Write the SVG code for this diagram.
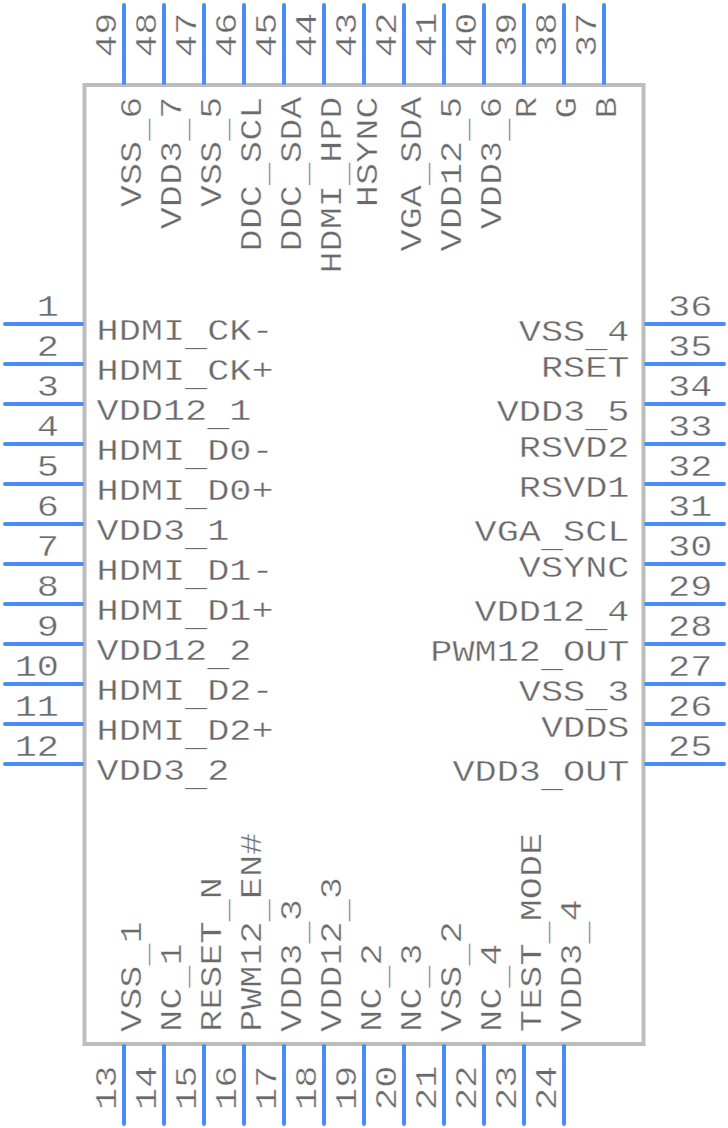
<svg xmlns="http://www.w3.org/2000/svg" width="728" height="1128" viewBox="0 0 728 1128">
<style>
.p{stroke:#4a8cf7;stroke-width:4;fill:none;stroke-linecap:round}
.b{stroke:#bdbdbd;stroke-width:4;fill:none}
text{font-family:"Liberation Mono",monospace;font-size:30px;fill:#6a6a6a;stroke:#fff;stroke-width:.35px}
.e{text-anchor:end}
</style>
<rect width="728" height="1128" fill="#fff"/>
<g id="body"><rect class="b" x="84.500" y="85" width="559" height="959"/></g>
<g id="connectors">
<path class="p" d="M124 5V83M164 5V83M204 5V83M244 5V83M284 5V83M324 5V83M364 5V83M404 5V83M444 5V83M484 5V83M524 5V83M564 5V83M604 5V83"/>
<path class="p" d="M124 1046V1124M164 1046V1124M204 1046V1124M244 1046V1124M284 1046V1124M324 1046V1124M364 1046V1124M404 1046V1124M444 1046V1124M484 1046V1124M524 1046V1124M564 1046V1124"/>
<path class="p" d="M5 324H82M5 364H82M5 404H82M5 444H82M5 484H82M5 524H82M5 564H82M5 604H82M5 644H82M5 684H82M5 724H82M5 764H82"/>
<path class="p" d="M646 324H724M646 364H724M646 404H724M646 444H724M646 484H724M646 524H724M646 564H724M646 604H724M646 644H724M646 684H724M646 724H724M646 764H724"/>
</g>
<g id="left-pins">
<text class="e" transform="translate(59,316) scale(1.23,1)">1</text>
<text class="e" transform="translate(59,356) scale(1.23,1)">2</text>
<text class="e" transform="translate(59,396) scale(1.23,1)">3</text>
<text class="e" transform="translate(59,436) scale(1.23,1)">4</text>
<text class="e" transform="translate(59,476) scale(1.23,1)">5</text>
<text class="e" transform="translate(59,516) scale(1.23,1)">6</text>
<text class="e" transform="translate(59,556) scale(1.23,1)">7</text>
<text class="e" transform="translate(59,596) scale(1.23,1)">8</text>
<text class="e" transform="translate(59,636) scale(1.23,1)">9</text>
<text class="e" transform="translate(59,676) scale(1.23,1)">10</text>
<text class="e" transform="translate(59,716) scale(1.23,1)">11</text>
<text class="e" transform="translate(59,756) scale(1.23,1)">12</text>
<text transform="translate(96.500,340) scale(1.23,1)">HDMI<tspan dy="6">_</tspan><tspan dy="-6">CK-</tspan></text>
<text transform="translate(96.500,380) scale(1.23,1)">HDMI<tspan dy="6">_</tspan><tspan dy="-6">CK+</tspan></text>
<text transform="translate(96.500,420) scale(1.23,1)">VDD12<tspan dy="6">_</tspan><tspan dy="-6">1</tspan></text>
<text transform="translate(96.500,460) scale(1.23,1)">HDMI<tspan dy="6">_</tspan><tspan dy="-6">D0-</tspan></text>
<text transform="translate(96.500,500) scale(1.23,1)">HDMI<tspan dy="6">_</tspan><tspan dy="-6">D0+</tspan></text>
<text transform="translate(96.500,540) scale(1.23,1)">VDD3<tspan dy="6">_</tspan><tspan dy="-6">1</tspan></text>
<text transform="translate(96.500,580) scale(1.23,1)">HDMI<tspan dy="6">_</tspan><tspan dy="-6">D1-</tspan></text>
<text transform="translate(96.500,620) scale(1.23,1)">HDMI<tspan dy="6">_</tspan><tspan dy="-6">D1+</tspan></text>
<text transform="translate(96.500,660) scale(1.23,1)">VDD12<tspan dy="6">_</tspan><tspan dy="-6">2</tspan></text>
<text transform="translate(96.500,700) scale(1.23,1)">HDMI<tspan dy="6">_</tspan><tspan dy="-6">D2-</tspan></text>
<text transform="translate(96.500,740) scale(1.23,1)">HDMI<tspan dy="6">_</tspan><tspan dy="-6">D2+</tspan></text>
<text transform="translate(96.500,780) scale(1.23,1)">VDD3<tspan dy="6">_</tspan><tspan dy="-6">2</tspan></text>
</g>
<g id="right-pins">
<text transform="translate(668,316) scale(1.23,1)">36</text>
<text transform="translate(668,356) scale(1.23,1)">35</text>
<text transform="translate(668,396) scale(1.23,1)">34</text>
<text transform="translate(668,436) scale(1.23,1)">33</text>
<text transform="translate(668,476) scale(1.23,1)">32</text>
<text transform="translate(668,516) scale(1.23,1)">31</text>
<text transform="translate(668,556) scale(1.23,1)">30</text>
<text transform="translate(668,596) scale(1.23,1)">29</text>
<text transform="translate(668,636) scale(1.23,1)">28</text>
<text transform="translate(668,676) scale(1.23,1)">27</text>
<text transform="translate(668,716) scale(1.23,1)">26</text>
<text transform="translate(668,756) scale(1.23,1)">25</text>
<text class="e" transform="translate(629.500,341) scale(1.23,1)">VSS<tspan dy="6">_</tspan><tspan dy="-6">4</tspan></text>
<text class="e" transform="translate(629.500,377) scale(1.23,1)">RSET</text>
<text class="e" transform="translate(629.500,421) scale(1.23,1)">VDD3<tspan dy="6">_</tspan><tspan dy="-6">5</tspan></text>
<text class="e" transform="translate(629.500,457) scale(1.23,1)">RSVD2</text>
<text class="e" transform="translate(629.500,497) scale(1.23,1)">RSVD1</text>
<text class="e" transform="translate(629.500,541) scale(1.23,1)">VGA<tspan dy="6">_</tspan><tspan dy="-6">SCL</tspan></text>
<text class="e" transform="translate(629.500,577) scale(1.23,1)">VSYNC</text>
<text class="e" transform="translate(629.500,621) scale(1.23,1)">VDD12<tspan dy="6">_</tspan><tspan dy="-6">4</tspan></text>
<text class="e" transform="translate(629.500,661) scale(1.23,1)">PWM12<tspan dy="6">_</tspan><tspan dy="-6">OUT</tspan></text>
<text class="e" transform="translate(629.500,701) scale(1.23,1)">VSS<tspan dy="6">_</tspan><tspan dy="-6">3</tspan></text>
<text class="e" transform="translate(629.500,737) scale(1.23,1)">VDDS</text>
<text class="e" transform="translate(629.500,781) scale(1.23,1)">VDD3<tspan dy="6">_</tspan><tspan dy="-6">OUT</tspan></text>
</g>
<g id="top-pins">
<text transform="translate(116,57) rotate(-90) scale(1.23,1)">49</text>
<text transform="translate(156,57) rotate(-90) scale(1.23,1)">48</text>
<text transform="translate(196,57) rotate(-90) scale(1.23,1)">47</text>
<text transform="translate(236,57) rotate(-90) scale(1.23,1)">46</text>
<text transform="translate(276,57) rotate(-90) scale(1.23,1)">45</text>
<text transform="translate(316,57) rotate(-90) scale(1.23,1)">44</text>
<text transform="translate(356,57) rotate(-90) scale(1.23,1)">43</text>
<text transform="translate(396,57) rotate(-90) scale(1.23,1)">42</text>
<text transform="translate(436,57) rotate(-90) scale(1.23,1)">41</text>
<text transform="translate(476,57) rotate(-90) scale(1.23,1)">40</text>
<text transform="translate(516,57) rotate(-90) scale(1.23,1)">39</text>
<text transform="translate(556,57) rotate(-90) scale(1.23,1)">38</text>
<text transform="translate(596,57) rotate(-90) scale(1.23,1)">37</text>
<text class="e" transform="translate(141,96.500) rotate(-90) scale(1.23,1)">VSS<tspan dy="6">_</tspan><tspan dy="-6">6</tspan></text>
<text class="e" transform="translate(181,96.500) rotate(-90) scale(1.23,1)">VDD3<tspan dy="6">_</tspan><tspan dy="-6">7</tspan></text>
<text class="e" transform="translate(221,96.500) rotate(-90) scale(1.23,1)">VSS<tspan dy="6">_</tspan><tspan dy="-6">5</tspan></text>
<text class="e" transform="translate(261,96.500) rotate(-90) scale(1.23,1)">DDC<tspan dy="6">_</tspan><tspan dy="-6">SCL</tspan></text>
<text class="e" transform="translate(301,96.500) rotate(-90) scale(1.23,1)">DDC<tspan dy="6">_</tspan><tspan dy="-6">SDA</tspan></text>
<text class="e" transform="translate(341,96.500) rotate(-90) scale(1.23,1)">HDMI<tspan dy="6">_</tspan><tspan dy="-6">HPD</tspan></text>
<text class="e" transform="translate(377,96.500) rotate(-90) scale(1.23,1)">HSYNC</text>
<text class="e" transform="translate(421,96.500) rotate(-90) scale(1.23,1)">VGA<tspan dy="6">_</tspan><tspan dy="-6">SDA</tspan></text>
<text class="e" transform="translate(461,96.500) rotate(-90) scale(1.23,1)">VDD12<tspan dy="6">_</tspan><tspan dy="-6">5</tspan></text>
<text class="e" transform="translate(501,96.500) rotate(-90) scale(1.23,1)">VDD3<tspan dy="6">_</tspan><tspan dy="-6">6</tspan></text>
<text class="e" transform="translate(536,96.500) rotate(-90) scale(1.23,1)">R</text>
<text class="e" transform="translate(576,96.500) rotate(-90) scale(1.23,1)">G</text>
<text class="e" transform="translate(616,96.500) rotate(-90) scale(1.23,1)">B</text>
</g>
<g id="bottom-pins">
<text transform="translate(116,1110) rotate(-90) scale(1.23,1)">13</text>
<text transform="translate(156,1110) rotate(-90) scale(1.23,1)">14</text>
<text transform="translate(196,1110) rotate(-90) scale(1.23,1)">15</text>
<text transform="translate(236,1110) rotate(-90) scale(1.23,1)">16</text>
<text transform="translate(276,1110) rotate(-90) scale(1.23,1)">17</text>
<text transform="translate(316,1110) rotate(-90) scale(1.23,1)">18</text>
<text transform="translate(356,1110) rotate(-90) scale(1.23,1)">19</text>
<text transform="translate(396,1110) rotate(-90) scale(1.23,1)">20</text>
<text transform="translate(436,1110) rotate(-90) scale(1.23,1)">21</text>
<text transform="translate(476,1110) rotate(-90) scale(1.23,1)">22</text>
<text transform="translate(516,1110) rotate(-90) scale(1.23,1)">23</text>
<text transform="translate(556,1110) rotate(-90) scale(1.23,1)">24</text>
<text transform="translate(141,1032) rotate(-90) scale(1.23,1)">VSS<tspan dy="6">_</tspan><tspan dy="-6">1</tspan></text>
<text transform="translate(181,1032) rotate(-90) scale(1.23,1)">NC<tspan dy="6">_</tspan><tspan dy="-6">1</tspan></text>
<text transform="translate(221,1032) rotate(-90) scale(1.23,1)">RESET<tspan dy="6">_</tspan><tspan dy="-6">N</tspan></text>
<text transform="translate(261,1032) rotate(-90) scale(1.23,1)">PWM12<tspan dy="6">_</tspan><tspan dy="-6">EN#</tspan></text>
<text transform="translate(301,1032) rotate(-90) scale(1.23,1)">VDD3<tspan dy="6">_</tspan><tspan dy="-6">3</tspan></text>
<text transform="translate(341,1032) rotate(-90) scale(1.23,1)">VDD12<tspan dy="6">_</tspan><tspan dy="-6">3</tspan></text>
<text transform="translate(381,1032) rotate(-90) scale(1.23,1)">NC<tspan dy="6">_</tspan><tspan dy="-6">2</tspan></text>
<text transform="translate(421,1032) rotate(-90) scale(1.23,1)">NC<tspan dy="6">_</tspan><tspan dy="-6">3</tspan></text>
<text transform="translate(461,1032) rotate(-90) scale(1.23,1)">VSS<tspan dy="6">_</tspan><tspan dy="-6">2</tspan></text>
<text transform="translate(501,1032) rotate(-90) scale(1.23,1)">NC<tspan dy="6">_</tspan><tspan dy="-6">4</tspan></text>
<text transform="translate(541,1032) rotate(-90) scale(1.23,1)">TEST<tspan dy="6">_</tspan><tspan dy="-6">MODE</tspan></text>
<text transform="translate(581,1032) rotate(-90) scale(1.23,1)">VDD3<tspan dy="6">_</tspan><tspan dy="-6">4</tspan></text>
</g>
</svg>
